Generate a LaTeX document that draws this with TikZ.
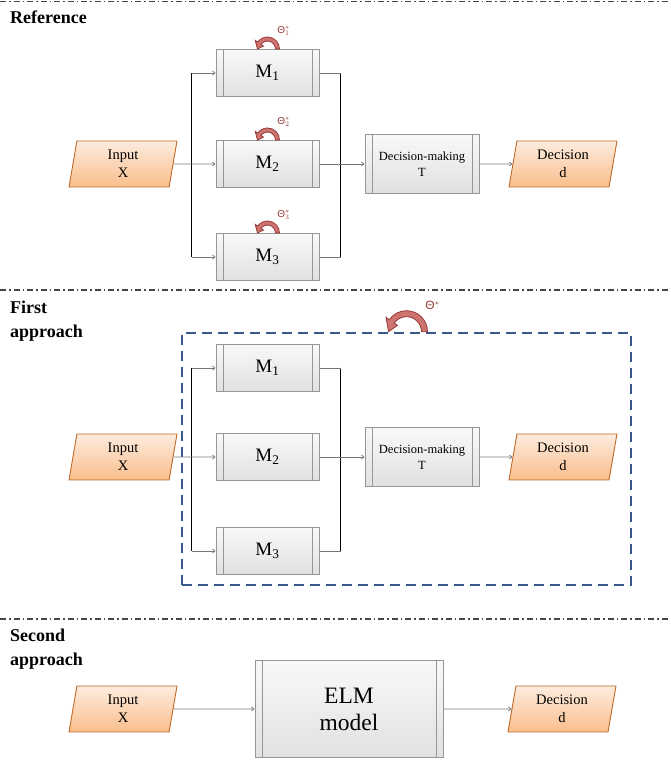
\documentclass[tikz,border=0pt]{standalone}
\usepackage{fontspec}
\setmainfont{Liberation Serif}
\setsansfont{Liberation Sans}
\usetikzlibrary{arrows.meta,positioning,calc,shapes.geometric}

\definecolor{iotop}{RGB}{253,236,222}
\definecolor{iobottom}{RGB}{249,190,140}
\definecolor{ioedge}{RGB}{190,105,40}
\definecolor{boxedge}{RGB}{150,150,150}
\definecolor{linkgray}{RGB}{120,120,120}
\definecolor{loopedge}{RGB}{150,55,53}
\definecolor{loopfill}{RGB}{205,115,112}
\definecolor{frameblue}{RGB}{56,90,138}
\definecolor{sepgray}{RGB}{70,70,70}

\tikzset{
  proc/.style={rectangle, draw=boxedge, line width=1pt, top color=gray!5, bottom color=gray!24,
    minimum width=103pt, minimum height=47pt, align=center, inner sep=1pt,
    font=\rmfamily\fontsize{19}{22}\selectfont,
    path picture={\draw[boxedge, line width=0.8pt]
      ([xshift=7pt]path picture bounding box.north west) -- ([xshift=7pt]path picture bounding box.south west)
      ([xshift=-7pt]path picture bounding box.north east) -- ([xshift=-7pt]path picture bounding box.south east);}},
  io/.style={trapezium, trapezium left angle=75, trapezium right angle=105, trapezium stretches body,
    draw=ioedge, line width=0.9pt, top color=iotop, bottom color=iobottom,
    minimum width=108pt, minimum height=46pt, align=center, inner sep=1pt,
    font=\rmfamily\fontsize{14.5}{18}\selectfont},
  conn/.style={draw=linkgray, line width=0.7pt, -{Straight Barb[length=2.5pt,width=4pt]}},
  link/.style={draw=linkgray, line width=0.7pt},
  bus/.style={draw=black, line width=1pt},
  sepline/.style={draw=sepgray, line width=1.1pt, dash pattern=on 6pt off 3pt on 1.5pt off 3pt},
  dashframe/.style={draw=frameblue, line width=2.6pt, dash pattern=on 10pt off 6pt, minimum width=449pt, minimum height=252pt},
  fbloop/.style={draw=loopedge, fill=loopfill, line width=0.8pt},
  thlabel/.style={text=loopedge, font=\sffamily\fontsize{10}{10}\selectfont, inner sep=0pt},
  heading/.style={anchor=west, align=left, inner sep=0pt, font=\rmfamily\bfseries\fontsize{18}{24}\selectfont}
}

% curved arrow: centre, inner radius, outer radius, head width
\newcommand{\thetaloop}[4]{%
  \filldraw[fbloop] ($(#1)+(0:#3)$) arc[start angle=0, end angle=145, radius=#3]
    -- ($(#1)+(145:{#3+#4})$) -- ($(#1)+(180:{(#2+#3)/2})$)
    -- ($(#1)+(145:{#2-#4})$) -- ($(#1)+(145:#2)$)
    arc[start angle=145, end angle=0, radius=#2] -- cycle;}

\begin{document}
\begin{tikzpicture}[x=1pt, y=1pt]
    \useasboundingbox (0,0) rectangle (671,762);

    % separators and headings
    \coordinate (s1l) at (0,760.5);   \coordinate (s1r) at (671,760.5);
    \coordinate (s2l) at (0,472);     \coordinate (s2r) at (671,472);
    \coordinate (s3l) at (0,143);     \coordinate (s3r) at (671,143);
    \draw[sepline] (s1l) -- (s1r);
    \draw[sepline] (s2l) -- (s2r);
    \draw[sepline] (s3l) -- (s3r);
    \node[heading] (h1) at (10,745) {Reference};
    \node[heading] (h2) at (10,441) {First\\approach};
    \node[heading] (h3) at (10,113) {Second\\approach};

    % reference
    \node[proc] (m2a) at (267.5,598) {M\textsubscript{2}};
    \node[proc, above=43pt of m2a] (m1a) {M\textsubscript{1}};
    \node[proc, below=45pt of m2a] (m3a) {M\textsubscript{3}};
    \node[io, left=42pt of m2a] (inp1) {Input\\X};
    \node[proc, right=45pt of m2a, minimum width=114pt, minimum height=59pt,
          font=\rmfamily\fontsize{12.5}{16.5}\selectfont] (t1) {Decision-making\\T};
    \node[io, right=33pt of t1] (dec1) {Decision\\d};

    \coordinate (bl1) at ($(m2a.west)+(-24pt,0)$);
    \coordinate (br1) at ($(m2a.east)+(21pt,0)$);
    \draw[bus] (bl1 |- m1a.west) -- (bl1 |- m3a.west);
    \draw[bus] (br1 |- m1a.east) -- (br1 |- m3a.east);
    \draw[conn] (bl1 |- m1a.west) -- (m1a.west);
    \draw[conn] (bl1 |- m3a.west) -- (m3a.west);
    \draw[conn] (inp1) -- (m2a);
    \draw[link] (m1a.east) -- (br1 |- m1a.east);
    \draw[link] (m3a.east) -- (br1 |- m3a.east);
    \draw[conn] (m2a) -- (t1);
    \draw[conn] (t1) -- (dec1);

    \thetaloop{m1a.north}{8pt}{12pt}{3pt}
    \thetaloop{m2a.north}{8pt}{12pt}{3pt}
    \thetaloop{m3a.north}{8pt}{12pt}{3pt}
    \node[thlabel] (th1) at ($(m1a.north)+(16pt,18pt)$) {Θ$^{*}_{1}$};
    \node[thlabel] (th2) at ($(m2a.north)+(16pt,18pt)$) {Θ$^{*}_{2}$};
    \node[thlabel] (th3) at ($(m3a.north)+(16pt,18pt)$) {Θ$^{*}_{3}$};

    % first approach
    \node[dashframe] (frame) at (406.5,303) {};
    \node[proc] (m2b) at (267.5,305) {M\textsubscript{2}};
    \node[proc, above=41pt of m2b] (m1b) {M\textsubscript{1}};
    \node[proc, below=46pt of m2b] (m3b) {M\textsubscript{3}};
    \node[io, left=42pt of m2b] (inp2) {Input\\X};
    \node[proc, right=45pt of m2b, minimum width=114pt, minimum height=59pt,
          font=\rmfamily\fontsize{12.5}{16.5}\selectfont] (t2) {Decision-making\\T};
    \node[io, right=33pt of t2] (dec2) {Decision\\d};

    \coordinate (bl2) at ($(m2b.west)+(-24pt,0)$);
    \coordinate (br2) at ($(m2b.east)+(21pt,0)$);
    \draw[bus] (bl2 |- m1b.west) -- (bl2 |- m3b.west);
    \draw[bus] (br2 |- m1b.east) -- (br2 |- m3b.east);
    \draw[conn] (bl2 |- m1b.west) -- (m1b.west);
    \draw[conn] (bl2 |- m3b.west) -- (m3b.west);
    \draw[conn] (inp2) -- (m2b);
    \draw[link] (m1b.east) -- (br2 |- m1b.east);
    \draw[link] (m3b.east) -- (br2 |- m3b.east);
    \draw[conn] (m2b) -- (t2);
    \draw[conn] (t2) -- (dec2);

    \thetaloop{frame.north}{15pt}{21pt}{4pt}
    \node[thlabel, font=\sffamily\fontsize{12}{12}\selectfont] (th) at ($(frame.north)+(26pt,26pt)$) {Θ$^{*}$};

    % second approach
    \node[proc, minimum width=188pt, minimum height=97pt,
          font=\rmfamily\fontsize{23.5}{27}\selectfont] (elm) at (349,53) {ELM\\model};
    \node[io, left=81pt of elm] (inp3) {Input\\X};
    \node[io, right=68pt of elm] (dec3) {Decision\\d};
    \draw[conn] (inp3) -- (elm);
    \draw[conn] (elm) -- (dec3);

\end{tikzpicture}
\end{document}
